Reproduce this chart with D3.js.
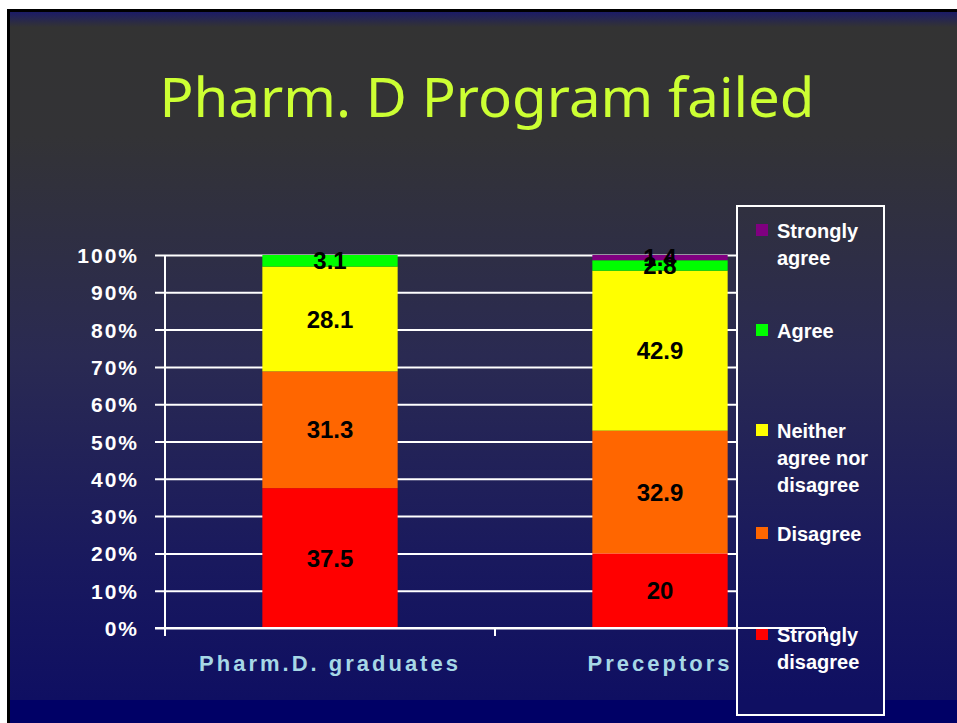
<!DOCTYPE html>
<html>
<head>
<meta charset="utf-8">
<script src="https://cdn.jsdelivr.net/npm/d3@7"></script>
<style>
  html, body { margin: 0; padding: 0; background: #fff; }
  svg { display: block; }
</style>
</head>
<body>
<svg id="chart" width="957" height="723"></svg>
<script>
// data
const categories = ["Pharm.D. graduates", "Preceptors"];
const seriesNames = ["Strongly disagree", "Disagree", "Neither agree nor disagree", "Agree", "Strongly agree"];
const stronglyDisagree = [37.5, 20];
const disagree         = [31.3, 32.9];
const neither          = [28.1, 42.9];
const agree            = [3.1, 2.8];
const stronglyAgree    = [0, 1.4];
const yTicks = [0, 0.1, 0.2, 0.3, 0.4, 0.5, 0.6, 0.7, 0.8, 0.9, 1];

const seriesColors = ["#ff0000", "#ff6600", "#ffff00", "#00ff00", "#800080"];
const legendLines = [["Strongly", "disagree"], ["Disagree"], ["Neither", "agree nor", "disagree"], ["Agree"], ["Strongly", "agree"]];

const svg = d3.select("#chart");
const font = "'Liberation Sans', Arial, sans-serif";

// background gradient (slide)
const defs = svg.append("defs");
const grad = defs.append("linearGradient")
    .attr("id", "bg")
    .attr("gradientUnits", "userSpaceOnUse")
    .attr("x1", 0).attr("y1", 12).attr("x2", 0).attr("y2", 700);
[[0, "#1c1c66"], [0.022, "#333333"], [0.18, "#333336"], [0.5, "#2a2a52"],
 [0.8, "#19195e"], [1, "#0f0f62"]].forEach(([o, c]) =>
  grad.append("stop").attr("offset", o).attr("stop-color", c));

svg.append("rect").attr("x", 7).attr("y", 9).attr("width", 950).attr("height", 714).attr("fill", "#000");
svg.append("rect").attr("x", 10).attr("y", 12).attr("width", 947).attr("height", 711).attr("fill", "url(#bg)");
svg.append("rect").attr("x", 10).attr("y", 700).attr("width", 947).attr("height", 23).attr("fill", "#000066");

// title
svg.append("text")
    .attr("x", 487).attr("y", 117)
    .attr("text-anchor", "middle")
    .attr("fill", "#ccff33")
    .attr("font-family", "'Noto Sans', 'Open Sans', sans-serif")
    .attr("font-size", 54)
    .attr("textLength", 655)
    .attr("lengthAdjust", "spacingAndGlyphs")
    .text("Pharm. D Program failed");

// scales
const plot = {left: 165, right: 825, top: 255, bottom: 628};

const x = d3.scaleBand()
    .domain(categories)
    .range([plot.left, plot.right])
    .paddingInner(0.59)
    .paddingOuter(0.295);

const y = d3.scaleLinear()
    .domain([0, 1])
    .range([plot.bottom, plot.top]);

// gridlines + y labels
const yAxis = svg.append("g")
    .attr("transform", `translate(${plot.left},0)`)
    .call(d3.axisLeft(y).tickValues(yTicks).tickFormat(d3.format(".0%")).tickSize(10).tickPadding(16));
yAxis.select(".domain").remove();
yAxis.selectAll(".tick line")
    .attr("x1", -10).attr("x2", plot.right - plot.left)
    .attr("stroke", "#fff").attr("stroke-width", 2);
yAxis.selectAll(".tick text")
    .attr("fill", "#fff")
    .attr("font-family", font)
    .attr("font-weight", "bold")
    .attr("font-size", 21)
    .attr("letter-spacing", "2px")
    .attr("dy", "0.36em");

// stacked bars
const rows = categories.map((c, i) => ({
  cat: c,
  "Strongly disagree": stronglyDisagree[i],
  "Disagree": disagree[i],
  "Neither agree nor disagree": neither[i],
  "Agree": agree[i],
  "Strongly agree": stronglyAgree[i]
}));
const stack = d3.stack().keys(seriesNames)(rows);

const layers = svg.append("g").selectAll("g")
  .data(stack).enter().append("g")
    .attr("fill", (d, i) => seriesColors[i]);

layers.selectAll("rect")
  .data(d => d).enter().append("rect")
    .attr("x", d => x(d.data.cat))
    .attr("width", x.bandwidth())
    .attr("y", d => y(d[1] / 100))
    .attr("height", d => y(d[0] / 100) - y(d[1] / 100));

// value labels (value taken straight from the data, not from the stack sums)
const labels = [];
stack.forEach(s => s.forEach(d => {
  const v = d.data[s.key];
  if (v > 0) labels.push({cat: d.data.cat, v, mid: (d[0] + d[1]) / 2});
}));
svg.append("g").selectAll("text")
  .data(labels).enter().append("text")
    .attr("x", d => x(d.cat) + x.bandwidth() / 2)
    .attr("y", d => y(d.mid / 100))
    .attr("dy", "0.36em")
    .attr("text-anchor", "middle")
    .attr("fill", "#000")
    .attr("font-family", font)
    .attr("font-weight", "bold")
    .attr("font-size", 24)
    .text(d => d.v);

// legend box
const legend = svg.append("g");
legend.append("rect")
    .attr("x", 737).attr("y", 206)
    .attr("width", 147).attr("height", 509)
    .attr("fill", "url(#bg)")
    .attr("stroke", "#fff").attr("stroke-width", 2);

const legendY = [634, 533, 430, 330, 230];
seriesNames.forEach((s, i) => {
  const row = legend.append("g").attr("transform", `translate(756,${legendY[i]})`);
  row.append("rect")
      .attr("x", 0).attr("y", -6)
      .attr("width", 12).attr("height", 12)
      .attr("fill", seriesColors[i]);
  row.append("text")
      .attr("x", 21).attr("y", 8)
      .attr("fill", "#fff")
      .attr("font-family", font)
      .attr("font-weight", "bold")
      .attr("font-size", 20)
      .selectAll("tspan")
      .data(legendLines[i]).enter().append("tspan")
        .attr("x", 21)
        .attr("dy", (d, j) => j ? 27 : 0)
        .text(d => d);
});

// category axis drawn last (baseline runs over the legend box)
const xAxis = svg.append("g");
xAxis.append("line")
    .attr("x1", plot.left - 10).attr("x2", plot.right)
    .attr("y1", plot.bottom).attr("y2", plot.bottom)
    .attr("stroke", "#fff").attr("stroke-width", 2);
xAxis.append("line")
    .attr("x1", plot.left).attr("x2", plot.left)
    .attr("y1", plot.top).attr("y2", plot.bottom + 8)
    .attr("stroke", "#fff").attr("stroke-width", 2);
d3.range(categories.length + 1).forEach(i => {
  const tx = plot.left + i * x.step();
  xAxis.append("line")
      .attr("x1", tx).attr("x2", tx)
      .attr("y1", plot.bottom).attr("y2", plot.bottom + 8)
      .attr("stroke", "#fff").attr("stroke-width", 2);
});
xAxis.selectAll("text.cat")
  .data(categories).enter().append("text")
    .attr("class", "cat")
    .attr("x", d => x(d) + x.bandwidth() / 2)
    .attr("y", 671)
    .attr("text-anchor", "middle")
    .attr("fill", "#a6d8e6")
    .attr("font-family", font)
    .attr("font-weight", "bold")
    .attr("font-size", 22)
    .attr("letter-spacing", "3px")
    .text(d => d);
</script>
</body>
</html>
